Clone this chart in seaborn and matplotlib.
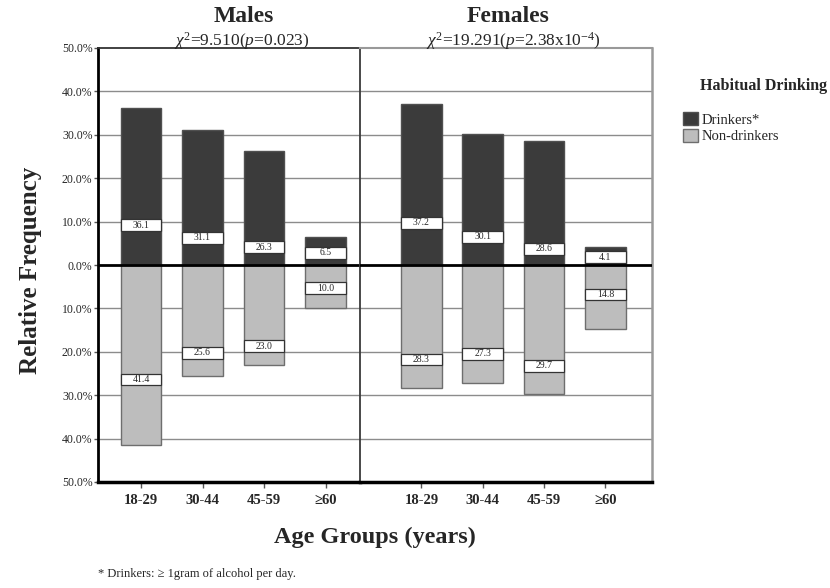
import numpy as np
import pandas as pd
import seaborn as sns
import matplotlib.pyplot as plt
from matplotlib.patches import Patch, Rectangle


# ---------------- DATA ----------------
age_groups = ["18-29", "30-44", "45-59", "≥60"]

male_drinkers = [36.1, 31.1, 26.3, 6.5]
male_non_drinkers = [41.4, 25.6, 23.0, 10.0]
female_drinkers = [37.2, 30.1, 28.6, 4.1]
female_non_drinkers = [28.3, 27.3, 29.7, 14.8]

male_stats = r"$\chi^2$=9.510($p$=0.023)"
female_stats = r"$\chi^2$=19.291($p$=2.38x10$^{-4}$)"

y_ticks = [-50, -40, -30, -20, -10, 0, 10, 20, 30, 40, 50]

# where the value boxes sit inside the bars (in %, like the SPSS output)
male_box_up = [9.2, 6.3, 4.1, 2.8]
male_box_down = [-26.4, -20.2, -18.7, -5.3]
female_box_up = [9.7, 6.5, 3.7, 1.8]
female_box_down = [-21.8, -20.5, -23.2, -6.8]


# ---------------- STYLE ----------------
sns.set_style("white")
plt.rcParams["font.family"] = ["Liberation Serif", "DejaVu Serif"]
plt.rcParams["mathtext.fontset"] = "custom"
plt.rcParams["mathtext.rm"] = "Liberation Serif"
plt.rcParams["mathtext.it"] = "Liberation Serif:italic"

dark = "#3b3b3b"
light = "#bdbdbd"
bar_w = 0.66
box_h = 2.7

W, H = 830, 588
fig = plt.figure(figsize=(W / 100, H / 100), dpi=100)

top, bottom = 48, 482
ax_m = fig.add_axes([98 / W, 1 - bottom / H, (360 - 98) / W, (bottom - top) / H])
ax_f = fig.add_axes([360 / W, 1 - bottom / H, (652 - 360) / W, (bottom - top) / H])


def draw_panel(ax, up, down, box_up, box_down):
    for t in y_ticks:
        if t not in (0, 50, -50):
            ax.axhline(t, color="#8c8c8c", lw=1, zorder=0)
    sns.barplot(x=age_groups, y=up, order=age_groups, color=dark, saturation=1,
                width=bar_w, edgecolor="#505050", linewidth=1, errorbar=None,
                ax=ax, zorder=2)
    sns.barplot(x=age_groups, y=[-v for v in down], order=age_groups, color=light,
                saturation=1, width=bar_w, edgecolor="#6e6e6e", linewidth=1,
                errorbar=None, ax=ax, zorder=2)
    for vals, boxes in ((up, box_up), (down, box_down)):
        for i, (v, ly) in enumerate(zip(vals, boxes)):
            ax.add_patch(Rectangle((i - bar_w / 2, ly - box_h / 2), bar_w, box_h,
                                   facecolor="white", edgecolor="#333333",
                                   lw=0.9, zorder=3))
            ax.text(i, ly, f"{v:.1f}", ha="center", va="center", fontsize=7, zorder=4)
    ax.axhline(0, color="black", lw=2, zorder=5)
    ax.set_ylim(-50, 50)
    ax.set_xlabel("")
    ax.set_ylabel("")
    ax.tick_params(axis="x", length=4, width=1, color="#555555", pad=5,
                   labelsize=10.5, bottom=True)
    for lab in ax.get_xticklabels():
        lab.set_fontweight("bold")
    ax.spines["bottom"].set_color("black")
    ax.spines["bottom"].set_linewidth(2.5)


draw_panel(ax_m, male_drinkers, male_non_drinkers, male_box_up, male_box_down)
draw_panel(ax_f, female_drinkers, female_non_drinkers, female_box_up, female_box_down)

ax_m.set_xlim(-0.70, 3.56)
ax_f.set_xlim(-1.0, 3.76)

# y axis on the left panel only
ax_m.set_yticks(y_ticks)
ax_m.set_yticklabels([f"{abs(t):.1f}%" for t in y_ticks])
ax_m.tick_params(axis="y", length=3, width=1, color="#555555", pad=1, labelsize=8.5, left=True)
ax_f.set_yticks(y_ticks)
ax_f.tick_params(axis="y", left=False, labelleft=False)

ax_m.spines["left"].set_color("black")
ax_m.spines["left"].set_linewidth(2)
ax_m.spines["top"].set_color("#333333")
ax_m.spines["top"].set_linewidth(1.3)
ax_m.spines["right"].set_visible(False)

ax_f.spines["left"].set_color("#3a3a3a")
ax_f.spines["left"].set_linewidth(1.3)
ax_f.spines["top"].set_color("#999999")
ax_f.spines["top"].set_linewidth(1.5)
ax_f.spines["right"].set_color("#999999")
ax_f.spines["right"].set_linewidth(1.8)

# titles
fig.text(244 / W, 1 - 17 / H, "Males", ha="center", va="center", fontsize=17, fontweight="bold")
fig.text(242 / W, 1 - 41 / H, male_stats, ha="center", va="center", fontsize=12.5)
fig.text(508 / W, 1 - 17 / H, "Females", ha="center", va="center", fontsize=17, fontweight="bold")
fig.text(513 / W, 1 - 41 / H, female_stats, ha="center", va="center", fontsize=12.5)

# axis titles
fig.text(30 / W, 1 - 270 / H, "Relative Frequency", rotation=90, ha="center", va="center",
         fontsize=18, fontweight="bold")
fig.text(375 / W, 1 - 537 / H, "Age Groups (years)", ha="center", va="center",
         fontsize=17.5, fontweight="bold")

# legend
fig.text(764 / W, 1 - 86 / H, "Habitual Drinking", ha="center", va="center",
         fontsize=11.5, fontweight="bold")
handles = [Patch(facecolor=dark, edgecolor="#505050"), Patch(facecolor=light, edgecolor="#6e6e6e")]
fig.legend(handles, ["Drinkers*", "Non-drinkers"], loc="upper left",
           bbox_to_anchor=(683 / W, 1 - 112 / H), frameon=False, fontsize=10.5,
           handlelength=1.0, handleheight=1.0, handletextpad=0.3,
           labelspacing=0.15, borderaxespad=0, borderpad=0)

# footnote
fig.text(98 / W, 1 - 574 / H, "* Drinkers: ≥ 1gram of alcohol per day.", ha="left",
         va="center", fontsize=9)

fig.savefig("out.png", dpi=100)
